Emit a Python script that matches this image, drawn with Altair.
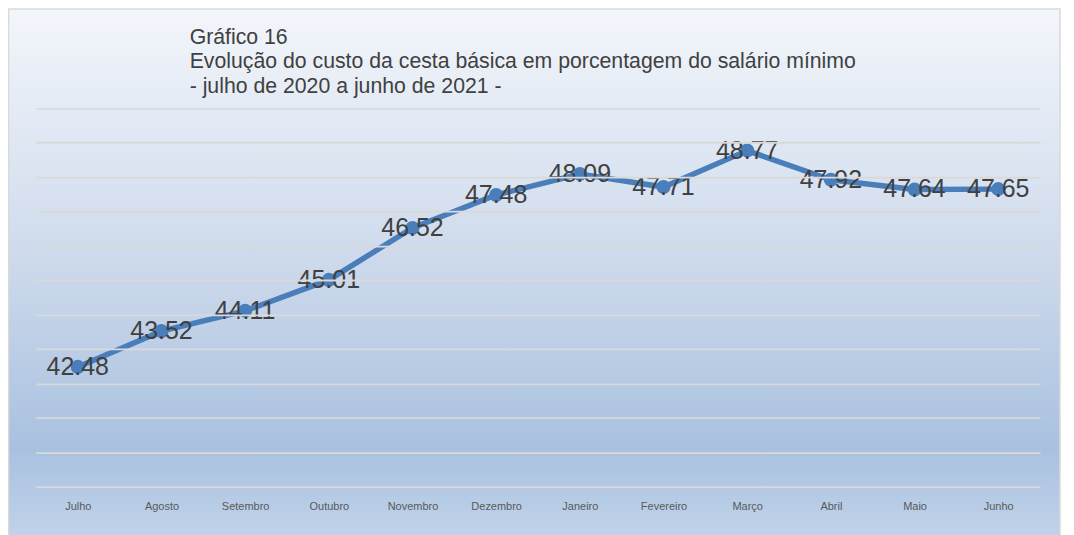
import altair as alt
import pandas as pd

meses = ["Julho", "Agosto", "Setembro", "Outubro", "Novembro", "Dezembro",
         "Janeiro", "Fevereiro", "Março", "Abril", "Maio", "Junho"]
valores = [42.48, 43.52, 44.11, 45.01, 46.52, 47.48,
           48.09, 47.71, 48.77, 47.92, 47.64, 47.65]
titulo = ["Gráfico 16",
          "Evolução do custo da cesta básica em porcentagem do salário mínimo",
          "- julho de 2020 a junho de 2021 -"]

df = pd.DataFrame({"mes": meses, "valor": valores})

W, H = 1006, 379
PL, PT, PR, PB = 28, 100, 26, 48

x_enc = alt.X("mes:N", sort=meses, scale=alt.Scale(padding=0.5),
              axis=alt.Axis(title=None, labelAngle=0, labelFontSize=11,
                            labelColor="#595959", labelFont="Liberation Sans",
                            labelPadding=14, ticks=False, domain=False,
                            grid=False, zindex=1))
y_enc = alt.Y("valor:Q", scale=alt.Scale(domain=[39, 50], nice=False, zero=False),
              axis=alt.Axis(title=None, labels=False, ticks=False, domain=False,
                            grid=True, gridColor="#d9d9d9", gridWidth=1.8,
                            values=list(range(39, 51)), zindex=1))

grad = alt.Gradient(
    gradient="linear", x1=0, y1=0, x2=0, y2=1,
    stops=[alt.GradientStop(color="#f3f6fb", offset=0),
           alt.GradientStop(color="#cfdbec", offset=0.45),
           alt.GradientStop(color="#a9c1e0", offset=0.82),
           alt.GradientStop(color="#c2d4ea", offset=1)])

bg = alt.Chart(alt.Data(values=[{}])).mark_rect(
    color=grad, stroke="#d9d9d9", strokeWidth=1.5, clip=False
).encode(x=alt.value(-PL + 0.5), x2=alt.value(W + PR - 6),
         y=alt.value(-PT + 0.5), y2=alt.value(H + PB + 10))

base = alt.Chart(df)
line = base.mark_line(color="#4a7ebb", strokeWidth=5.5).encode(x=x_enc, y=y_enc)
pts = base.mark_circle(color="#4a7ebb", size=200, opacity=1).encode(x=x_enc, y=y_enc)
lbl = base.mark_text(fontSize=25, color="#404040", font="Liberation Sans",
                     align="center", baseline="middle").encode(
    x=x_enc, y=y_enc, text=alt.Text("valor:Q", format=".2f"))

chart = alt.layer(bg, line, pts, lbl).properties(
    width=W, height=H,
    title=alt.Title(text=titulo, anchor="start", frame="group", dx=154,
                    dy=101, offset=12, fontSize=21.3, lineHeight=24.5, zindex=1,
                    font="Liberation Sans", fontWeight="normal", color="#404040"),
    autosize=alt.AutoSizeParams(type="none"),
    padding={"left": PL, "top": PT, "right": PR, "bottom": PB},
).configure_view(stroke=None).configure(background="white")

chart.save("out.html", embed_options={"renderer": "svg", "actions": False})
